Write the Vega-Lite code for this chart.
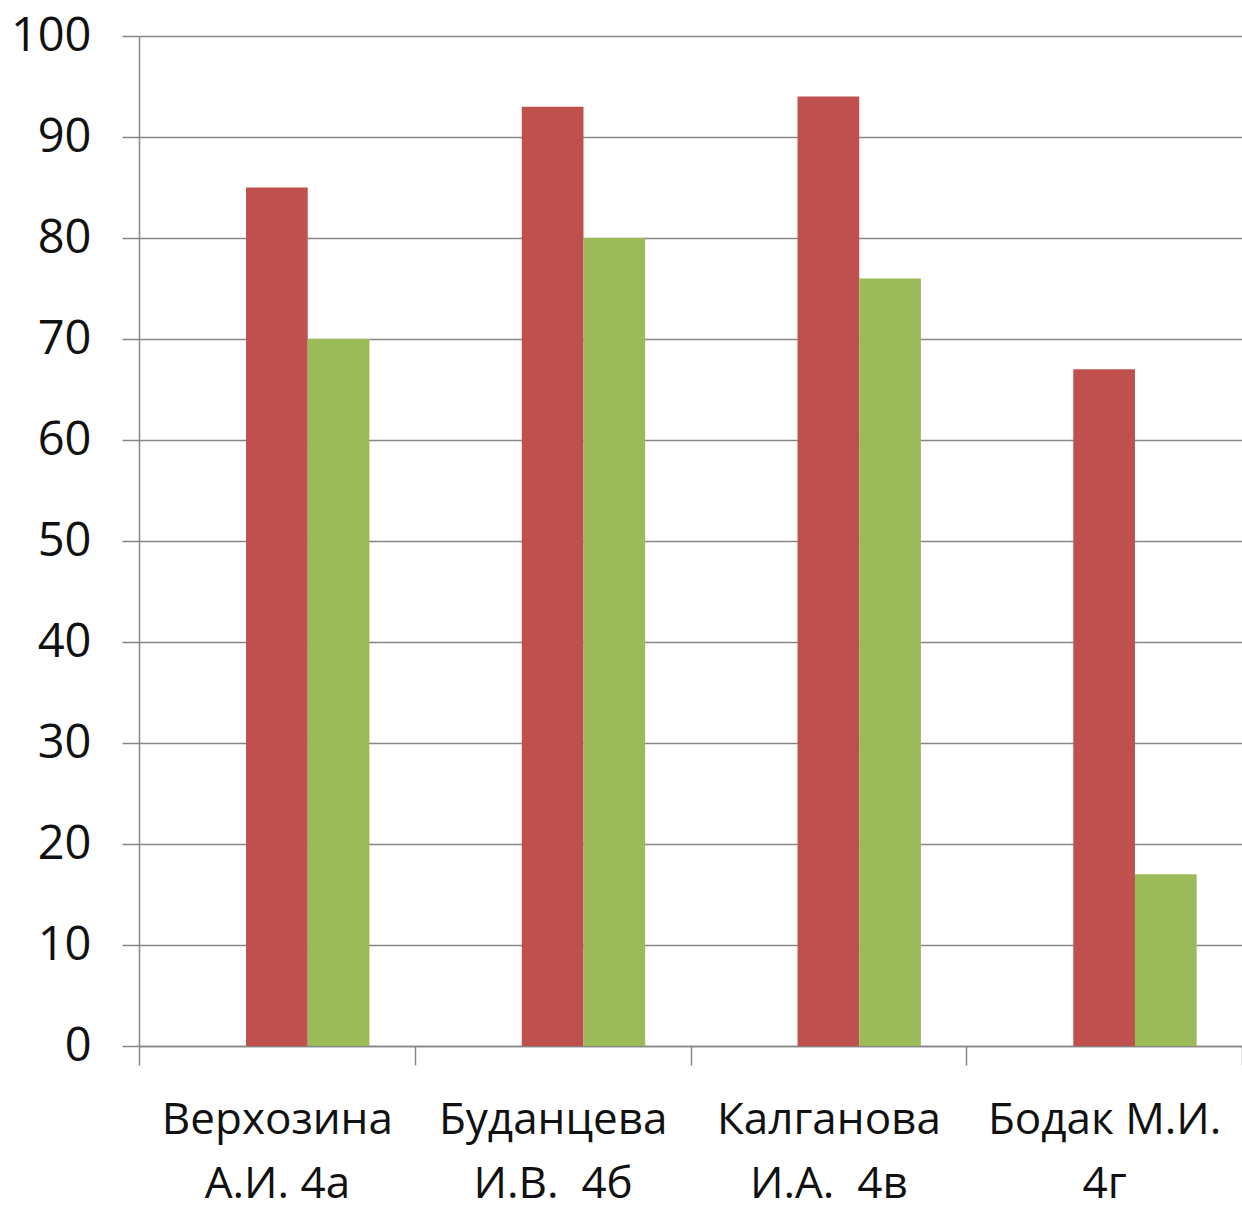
{
  "$schema": "https://vega.github.io/schema/vega-lite/v6.json",
  "width": 1103,
  "height": 1010,
  "autosize": {"type": "none"},
  "padding": {"left": 139, "top": 36, "right": 0, "bottom": 168},
  "background": "white",
  "config": {"view": {"stroke": null}, "font": "Open Sans"},
  "data": {
    "values": [
      {"teacher": "Верхозина\nА.И. 4а", "series": "s2", "value": 85},
      {"teacher": "Верхозина\nА.И. 4а", "series": "s3", "value": 70},
      {"teacher": "Буданцева\nИ.В.\u00a0 4б", "series": "s2", "value": 93},
      {"teacher": "Буданцева\nИ.В.\u00a0 4б", "series": "s3", "value": 80},
      {"teacher": "Калганова\nИ.А.\u00a0 4в", "series": "s2", "value": 94},
      {"teacher": "Калганова\nИ.А.\u00a0 4в", "series": "s3", "value": 76},
      {"teacher": "Бодак М.И.\n4г", "series": "s2", "value": 67},
      {"teacher": "Бодак М.И.\n4г", "series": "s3", "value": 17}
    ]
  },
  "mark": {"type": "bar"},
  "encoding": {
    "x": {
      "field": "teacher",
      "type": "nominal",
      "sort": null,
      "scale": {"paddingInner": 0, "paddingOuter": 0},
      "axis": {
        "title": null,
        "labelAngle": 0,
        "labelExpr": "split(datum.label, '\\n')",
        "labelFontSize": 44,
        "labelColor": "#111111",
        "labelLineHeight": 64,
        "labelBaseline": "top",
        "labelPadding": 33,
        "labelLimit": 400,
        "tickBand": "extent",
        "tickSize": 19,
        "tickColor": "#868686",
        "tickWidth": 1.5,
        "domainColor": "#868686",
        "domainWidth": 1.5,
        "grid": false
      }
    },
    "xOffset": {
      "field": "series",
      "type": "nominal",
      "scale": {"domain": ["s1", "s2", "s3"], "paddingInner": 0, "paddingOuter": 0.735}
    },
    "y": {
      "field": "value",
      "type": "quantitative",
      "scale": {"domain": [0, 100], "nice": false},
      "axis": {
        "title": null,
        "values": [0, 10, 20, 30, 40, 50, 60, 70, 80, 90, 100],
        "labelFontSize": 47,
        "labelColor": "#111111",
        "labelPadding": 31,
        "tickSize": 17,
        "tickColor": "#868686",
        "tickWidth": 1.5,
        "domainColor": "#868686",
        "domainWidth": 1.5,
        "grid": true,
        "gridColor": "#868686",
        "gridWidth": 1.5
      }
    },
    "color": {
      "field": "series",
      "type": "nominal",
      "scale": {"domain": ["s1", "s2", "s3"], "range": ["#4F81BD", "#C0504D", "#9BBB59"]},
      "legend": null
    }
  }
}
